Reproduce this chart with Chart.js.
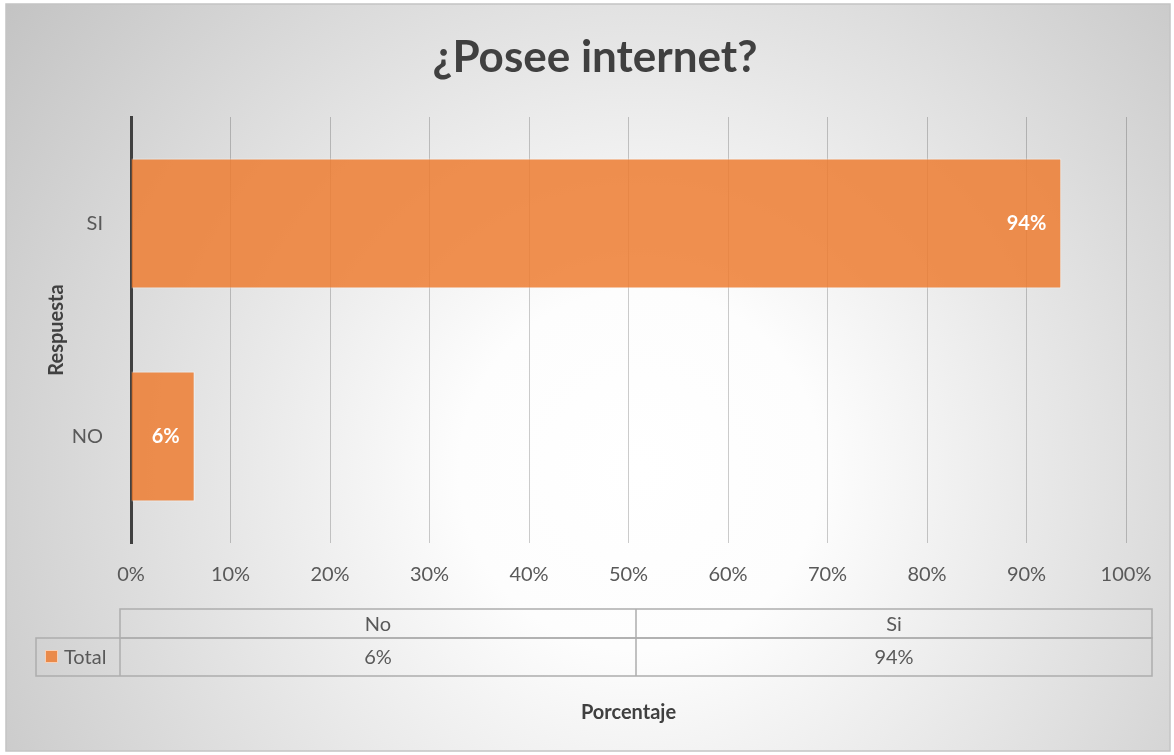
<!DOCTYPE html>
<html>
<head>
<meta charset="utf-8">
<title>¿Posee internet?</title>
<script src="https://cdn.jsdelivr.net/npm/chart.js@4.4.1/dist/chart.umd.min.js"></script>
<style>
  html, body { margin: 0; padding: 0; background: #fff; }
  canvas { display: block; }
</style>
</head>
<body>
<canvas id="chart" width="1174" height="755"></canvas>
<script>
const categories = ['NO', 'SI'];
const totals = [6.4, 93.5];
const tableHeaders = ['No', 'Si'];
const tableLabels = ['6%', '94%'];
const seriesName = 'Total';
const chartTitle = '¿Posee internet?';

const orange = 'rgba(237, 125, 49, 0.85)';
const textGray = '#595959';
const fontStack = "Lato, 'Noto Sans', sans-serif";

Chart.defaults.font.family = fontStack;
Chart.defaults.color = textGray;

// frame + radial gradient behind everything, and the title (Excel centres it on the whole frame)
const backdrop = {
  id: 'backdrop',
  beforeDraw(chart) {
    const ctx = chart.ctx;
    ctx.save();
    ctx.fillStyle = '#fff';
    ctx.fillRect(0, 0, chart.width, chart.height);
    const g = ctx.createRadialGradient(640, 470, 0, 640, 470, 820);
    g.addColorStop(0, '#ffffff');
    g.addColorStop(0.22, '#fdfdfd');
    g.addColorStop(1, '#c0c0c0');
    ctx.fillStyle = g;
    ctx.fillRect(6, 4, 1164, 747);
    ctx.strokeStyle = '#c4c4c4';
    ctx.lineWidth = 1.5;
    ctx.strokeRect(6, 4, 1164, 747);

    ctx.font = 'bold 44px ' + fontStack;
    ctx.fillStyle = '#404040';
    ctx.textAlign = 'center';
    ctx.textBaseline = 'middle';
    ctx.fillText(chartTitle, 595, 58);
    ctx.restore();
  }
};

// value labels inside the end of each bar
const barLabels = {
  id: 'barLabels',
  afterDatasetsDraw(chart) {
    const ctx = chart.ctx;
    const meta = chart.getDatasetMeta(0);
    ctx.save();
    ctx.font = 'bold 20px ' + fontStack;
    ctx.fillStyle = '#fff';
    ctx.textAlign = 'right';
    ctx.textBaseline = 'middle';
    meta.data.forEach((bar, i) => {
      ctx.fillText(Math.round(totals[i]) + '%', bar.x - 15, bar.y);
    });
    ctx.restore();
  }
};

// Excel-like data table under the x axis
const dataTable = {
  id: 'dataTable',
  afterDraw(chart) {
    const ctx = chart.ctx;
    const area = chart.chartArea;
    const left = area.left - 11;
    const right = area.right + 26;
    const keyLeft = 36;
    const top = area.bottom + 66;
    const headH = 29;
    const rowH = 38;
    const colW = (right - left) / tableHeaders.length;

    ctx.save();
    ctx.strokeStyle = '#adadad';
    ctx.lineWidth = 1.5;
    ctx.strokeRect(left, top, right - left, headH);
    ctx.strokeRect(keyLeft, top + headH, right - keyLeft, rowH);
    ctx.beginPath();
    ctx.moveTo(left, top + headH);
    ctx.lineTo(left, top + headH + rowH);
    for (let i = 1; i < tableHeaders.length; i++) {
      ctx.moveTo(left + colW * i, top);
      ctx.lineTo(left + colW * i, top + headH + rowH);
    }
    ctx.stroke();

    ctx.font = '20px ' + fontStack;
    ctx.fillStyle = textGray;
    ctx.textAlign = 'center';
    ctx.textBaseline = 'middle';
    tableHeaders.forEach((h, i) => {
      const cx = left + colW * (i + 0.5);
      ctx.fillText(h, cx, top + headH / 2 + 1);
      ctx.fillText(tableLabels[i], cx, top + headH + rowH / 2 + 1);
    });

    // legend key
    const ky = top + headH + rowH / 2;
    ctx.fillStyle = orange;
    ctx.fillRect(45, ky - 7, 13, 13);
    ctx.strokeStyle = 'rgba(255,255,255,0.6)';
    ctx.lineWidth = 1;
    ctx.strokeRect(45.5, ky - 6.5, 12, 12);
    ctx.fillStyle = textGray;
    ctx.textAlign = 'left';
    ctx.fillText(seriesName, 64, ky + 1);
    ctx.restore();
  }
};

new Chart(document.getElementById('chart'), {
  type: 'bar',
  data: {
    labels: categories,
    datasets: [{
      label: seriesName,
      data: totals,
      backgroundColor: orange,
      borderColor: 'rgba(255,255,255,0.55)',
      borderWidth: 1,
      categoryPercentage: 1,
      barPercentage: 0.61
    }]
  },
  options: {
    indexAxis: 'y',
    responsive: false,
    animation: false,
    layout: { padding: { left: 0, right: 48, top: 117, bottom: 0 } },
    plugins: {
      legend: { display: false },
      tooltip: { enabled: false },
      title: { display: false }
    },
    scales: {
      x: {
        min: 0,
        max: 100,
        ticks: {
          stepSize: 10,
          padding: 20,
          color: textGray,
          font: { size: 20 },
          callback: v => v + '%'
        },
        grid: { color: 'rgba(0,0,0,0.2)', drawTicks: false },
        border: { display: false },
        title: {
          display: true,
          text: 'Porcentaje',
          color: '#404040',
          font: { size: 20, weight: 'bold' },
          padding: { top: 0, bottom: 30 }
        },
        afterFit: s => { s.height = 212; }
      },
      y: {
        reverse: true,
        ticks: { padding: 20, color: textGray, font: { size: 20 } },
        grid: { display: false },
        border: { color: '#404040', width: 3 },
        title: {
          display: true,
          text: 'Respuesta',
          color: '#404040',
          font: { size: 20, weight: 'bold' },
          padding: { top: 45, bottom: 0 }
        },
        afterFit: s => { s.width = 131; }
      }
    }
  },
  plugins: [backdrop, barLabels, dataTable]
});
</script>
</body>
</html>
